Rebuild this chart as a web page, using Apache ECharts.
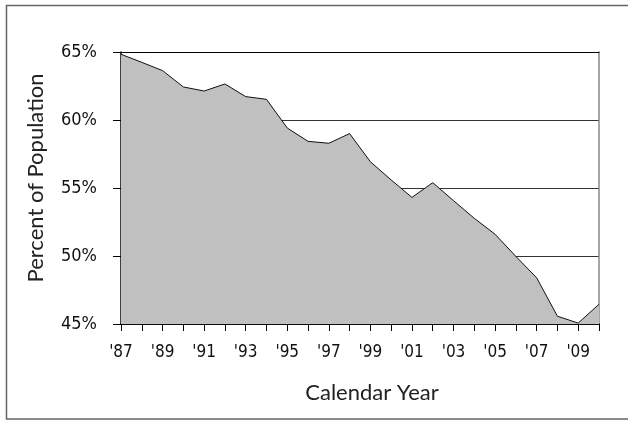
<!DOCTYPE html>
<html>
<head>
<meta charset="utf-8">
<script src="https://cdn.jsdelivr.net/npm/echarts@6/dist/echarts.min.js"></script>
<style>html,body{margin:0;padding:0;background:#fff}#c{width:628px;height:421px}</style>
</head>
<body>
<div id="c"></div>
<script>
var years = ['1987','1988','1989','1990','1991','1992','1993','1994','1995','1996','1997','1998','1999','2000','2001','2002','2003','2004','2005','2006','2007','2008','2009','2010'];
var percent = [64.83,64.24,63.63,62.43,62.13,62.65,61.72,61.52,59.41,58.43,58.29,59.0,56.93,55.59,54.31,55.39,54.07,52.77,51.6,49.97,48.4,45.57,45.07,46.45];
var yTicks = [45,50,55,60,65];

var chart = echarts.init(document.getElementById('c'), null, {renderer:'canvas'});
var tickFont = '"DejaVu Sans"';
var tickStyle = 'normal condensed';
chart.setOption({
  animation:false,
  backgroundColor:'#fff',
  graphic:[{type:'rect', shape:{x:6.5,y:5.5,width:640,height:413.5}, style:{fill:null, stroke:'#666', lineWidth:1.5}, silent:true, z:-1}],
  grid:{left:121, top:52, right:29, bottom:97},
  xAxis:[{
    type:'category', data:years, boundaryGap:false,
    name:'Calendar Year', nameLocation:'middle', nameGap:58,
    nameTextStyle:{fontFamily:'Lato, "Open Sans", sans-serif', fontSize:22, color:'#222', padding:[0,0,0,24]},
    axisLine:{lineStyle:{color:'#000', width:1.5}},
    axisTick:{show:true, length:7, interval:0, lineStyle:{color:'#000'}},
    axisLabel:{interval:1, margin:20, fontFamily:tickFont, fontStyle:tickStyle, fontSize:17, color:'#111',
      formatter:function(v){return "'"+v.slice(2);}},
    splitLine:{show:false}
  },{
    type:'category', data:years, boundaryGap:false, position:'top',
    axisLine:{lineStyle:{color:'#000', width:1}}, axisTick:{show:false}, axisLabel:{show:false}
  }],
  yAxis:[{
    type:'value', min:yTicks[0], max:yTicks[yTicks.length-1], interval:5,
    name:'Percent of Population', nameLocation:'middle', nameGap:74, nameRotate:90,
    nameTextStyle:{fontFamily:'Lato, "Open Sans", sans-serif', fontSize:22, color:'#222', padding:[0,0,0,20]},
    axisLine:{show:true, lineStyle:{color:'#000', width:1.5}},
    axisTick:{show:true, length:8, lineStyle:{color:'#000'}},
    axisLabel:{margin:24, fontFamily:tickFont, fontStyle:tickStyle, fontSize:18, color:'#111', formatter:'{value}%'},
    splitLine:{show:true, lineStyle:{color:'#333', width:1}}
  },{
    type:'value', min:yTicks[0], max:yTicks[yTicks.length-1], interval:5, position:'right',
    axisLine:{show:true, lineStyle:{color:'#888', width:1.5}}, axisTick:{show:false}, axisLabel:{show:false}, splitLine:{show:false}
  }],
  series:[{
    type:'line', data:percent, symbol:'none',
    lineStyle:{color:'#111', width:1},
    areaStyle:{color:'#c0c0c0', opacity:1, origin:'start'},
    z:3
  }]
});
</script>
</body>
</html>
